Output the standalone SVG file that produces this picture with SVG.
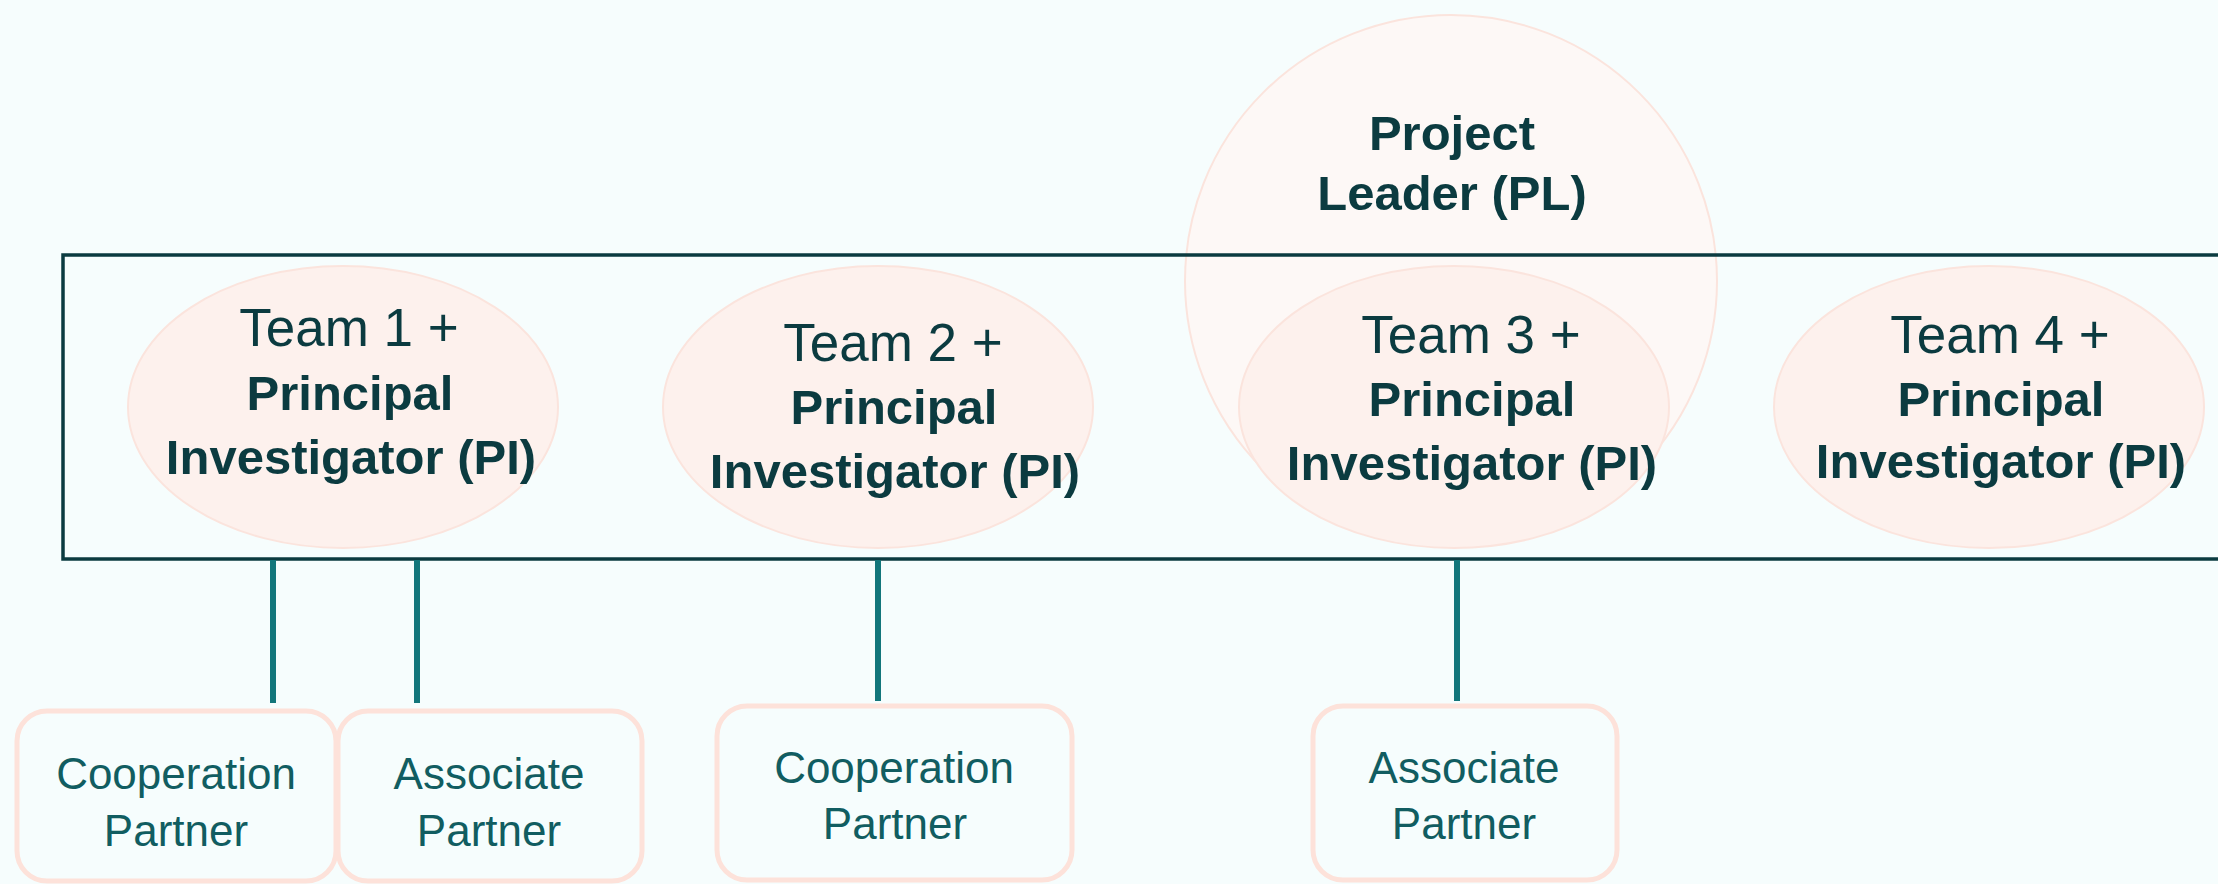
<svg xmlns="http://www.w3.org/2000/svg" width="2218" height="884" viewBox="0 0 2218 884">
  <style>
    .team { fill: #fdf1ed; stroke: #fbe4dd; stroke-width: 2; }
    .lead { fill: #fdf8f6; stroke: #fbe4dd; stroke-width: 2; }
    .frame { fill: none; stroke: #0b3b40; stroke-width: 3.5; }
    .box { fill: #f6fdfd; stroke: #fde2da; stroke-width: 5; }
    .conn { stroke: #12767b; stroke-width: 6; fill: none; }
    .t { font-family: "Liberation Sans", Arial, sans-serif; fill: #0b3b40; text-anchor: middle; }
    .reg { font-size: 53px; font-weight: normal; }
    .bold { font-size: 49px; font-weight: bold; }
    .p { font-family: "Liberation Sans", Arial, sans-serif; fill: #115d61; text-anchor: middle; font-size: 44px; }
  </style>
  <rect x="0" y="0" width="2218" height="884" fill="#f6fdfd"/>

  <g id="project-leader">
    <circle class="lead" cx="1451" cy="281" r="266"/>
    <text class="t bold" x="1452" y="150">Project</text>
    <text class="t bold" x="1452" y="210">Leader (PL)</text>
  </g>

  <g id="consortium-frame">
    <rect class="frame" x="63" y="255" width="2200" height="304"/>
  </g>

  <g id="team1">
    <ellipse class="team" cx="343" cy="407" rx="215" ry="141"/>
    <text class="t reg" x="349" y="346">Team 1 +</text>
    <text class="t bold" x="350" y="410">Principal</text>
    <text class="t bold" x="351" y="474">Investigator (PI)</text>
  </g>

  <g id="team2">
    <ellipse class="team" cx="878" cy="407" rx="215" ry="141"/>
    <text class="t reg" x="893" y="361">Team 2 +</text>
    <text class="t bold" x="894" y="424">Principal</text>
    <text class="t bold" x="895" y="488">Investigator (PI)</text>
  </g>

  <g id="team3">
    <ellipse class="team" cx="1454" cy="407" rx="215" ry="141"/>
    <text class="t reg" x="1471" y="353">Team 3 +</text>
    <text class="t bold" x="1472" y="416">Principal</text>
    <text class="t bold" x="1472" y="480">Investigator (PI)</text>
  </g>

  <g id="team4">
    <ellipse class="team" cx="1989" cy="407" rx="215" ry="141"/>
    <text class="t reg" x="2000" y="353">Team 4 +</text>
    <text class="t bold" x="2001" y="416">Principal</text>
    <text class="t bold" x="2001" y="478">Investigator (PI)</text>
  </g>

  <g id="connectors">
    <line class="conn" x1="273" y1="560" x2="273" y2="703"/>
    <line class="conn" x1="417" y1="560" x2="417" y2="703"/>
    <line class="conn" x1="878" y1="560" x2="878" y2="701"/>
    <line class="conn" x1="1457" y1="560" x2="1457" y2="701"/>
  </g>

  <g id="partner1">
    <rect class="box" x="17" y="711" width="319" height="170" rx="30" ry="30"/>
    <text class="p" x="176" y="789">Cooperation</text>
    <text class="p" x="176" y="846">Partner</text>
  </g>

  <g id="partner2">
    <rect class="box" x="338" y="711" width="304" height="170" rx="30" ry="30"/>
    <text class="p" x="489" y="789">Associate</text>
    <text class="p" x="489" y="846">Partner</text>
  </g>

  <g id="partner3">
    <rect class="box" x="717" y="706" width="355" height="174" rx="30" ry="30"/>
    <text class="p" x="894" y="783">Cooperation</text>
    <text class="p" x="895" y="839">Partner</text>
  </g>

  <g id="partner4">
    <rect class="box" x="1313" y="706" width="304" height="174" rx="30" ry="30"/>
    <text class="p" x="1464" y="783">Associate</text>
    <text class="p" x="1464" y="839">Partner</text>
  </g>
</svg>
